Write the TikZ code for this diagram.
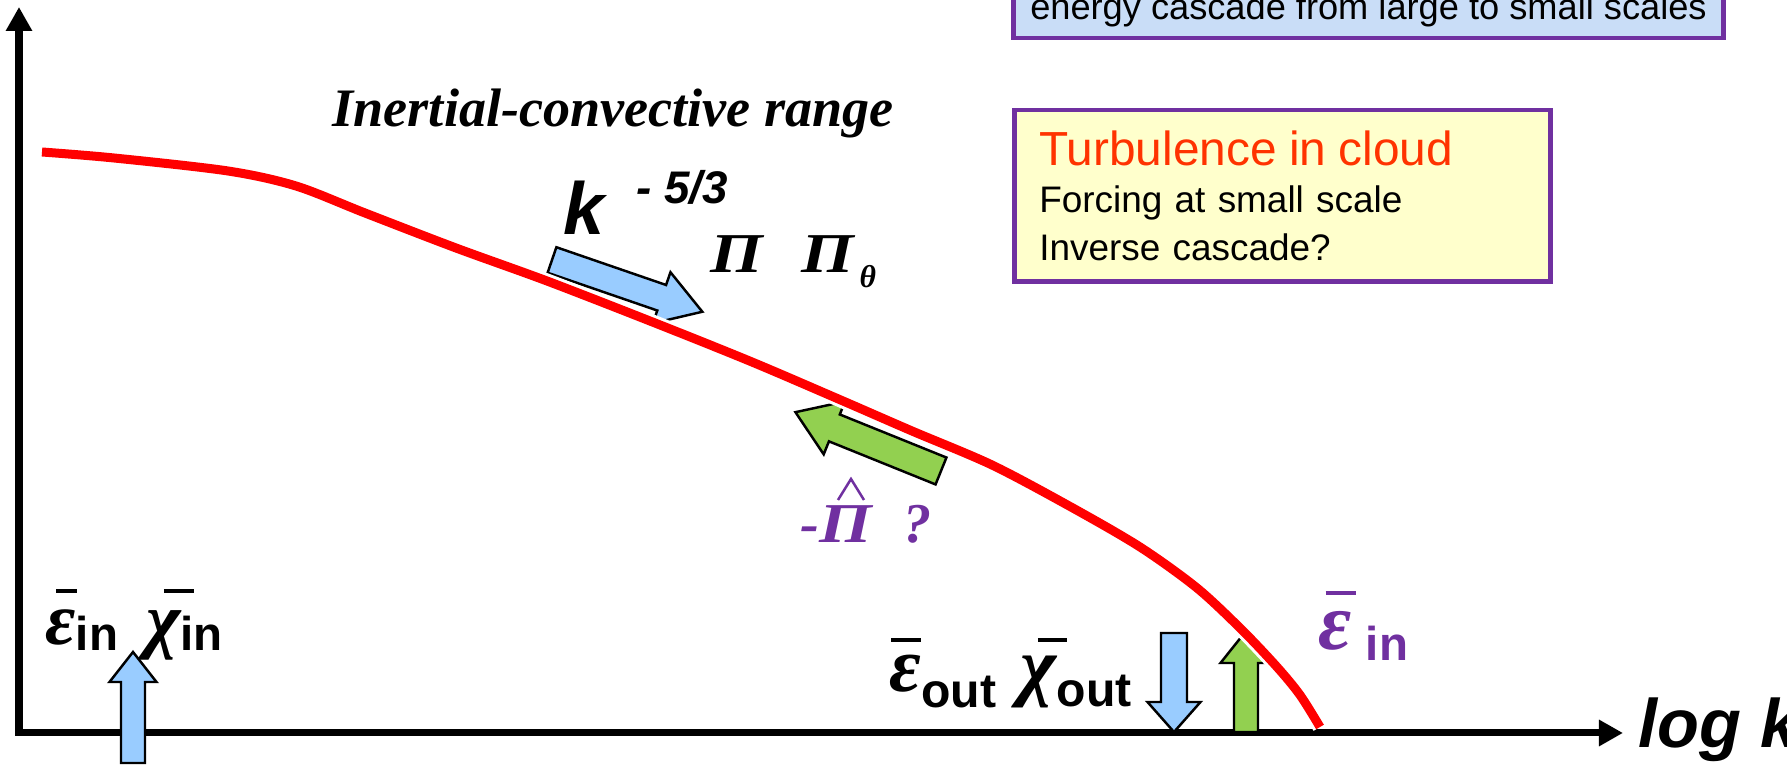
\documentclass[tikz,border=0pt]{standalone}
\usepackage{fontspec}
\setmainfont{Liberation Sans}
\newfontfamily\seriffont{Liberation Serif}
\usepackage{graphicx}
\usetikzlibrary{arrows.meta}

\definecolor{cvred}{HTML}{FF0000}
\definecolor{cvpurple}{HTML}{7030A0}
\definecolor{titlered}{HTML}{FF3300}
\definecolor{arrowblue}{HTML}{99CCFF}
\definecolor{arrowgreen}{HTML}{92D050}
\definecolor{cloudyellow}{HTML}{FFFFCC}
\definecolor{cascadeblue}{HTML}{C9DDF7}

\newcommand\serifbi{\seriffont\bfseries\itshape}
\newcommand\widepi{\scalebox{1.2}[1]{Π}}
% bar over a symbol: offset, raise, width, symbol
\newcommand\ovbar[4]{\makebox[0pt][l]{\hspace{#1}\rule[#2]{#3}{1.1pt}}#4}

\tikzset{
  pics/blockarrow/.style n args={4}{code={
    \draw[pic actions] (0,{-#2/2}) -- ({#1-#4},{-#2/2}) -- ({#1-#4},{-#3/2}) -- (#1,0)
      -- ({#1-#4},{#3/2}) -- ({#1-#4},{#2/2}) -- (0,{#2/2}) -- cycle;
  }}
}

\begin{document}
\begin{tikzpicture}[
  x=0.01cm, y=-0.01cm,
  lbl/.style={inner sep=0pt, anchor=base west},
  infobox/.style={draw=cvpurple, line width=0.045cm},
  blockstyle/.style={draw=black, line width=0.7pt, line join=miter},
  axis/.style={line width=0.07cm, line join=miter,
    {Triangle[width=0.25cm,length=0.24cm]}-{Triangle[width=0.25cm,length=0.24cm]}},
  spectrum/.style={cvred, line width=0.09cm,
    preaction={draw=white, line width=0.15cm}}
]
\useasboundingbox (0,0) rectangle (1787,765);
\fill[white] (0,0) rectangle (1787,765);

% axes
\draw[axis] (19,7) -- (19,733) -- (1623,733);
\node[lbl, font=\bfseries\itshape\fontsize{19.5pt}{22pt}\selectfont] (logk) at (1638,748) {log k};

% flux arrows
\pic[blockstyle, fill=arrowblue, rotate=-19] at (552,260) {blockarrow={159}{27}{54}{43}};
\pic[blockstyle, fill=arrowgreen, rotate=158] at (941,471) {blockarrow={157}{29}{57}{42}};
\pic[blockstyle, fill=arrowblue, rotate=90] at (133,763) {blockarrow={111}{24}{47}{30}};
\pic[blockstyle, fill=arrowblue, rotate=-90] at (1174,633) {blockarrow={99}{26}{53}{30}};
\pic[blockstyle, fill=arrowgreen, rotate=90] at (1246,732) {blockarrow={101}{24}{51}{32}};

% spectrum
\draw[spectrum] plot[smooth, tension=0.5] coordinates {
  (42,152) (114,158) (228,171) (296,186) (365,213) (456,248) (547,281)
  (655,323) (752,362) (843,401) (912,431) (992,465) (1071,507) (1140,547)
  (1197,588) (1242,630) (1277,667) (1300,695) (1320,727)};

% labels
\node[lbl, font=\serifbi\fontsize{15.4pt}{18pt}\selectfont] (range) at (332,127) {Inertial-convective range};
\node[lbl, font=\bfseries\itshape\fontsize{21pt}{24pt}\selectfont] (slope) at (563,235)
  {k\hspace{9pt}\raisebox{9pt}{\fontsize{13pt}{15pt}\selectfont - 5/3}};
\node[lbl, font=\serifbi\fontsize{16pt}{18pt}\selectfont] (flux) at (710,273)
  {\widepi\hspace{11pt}\widepi\hspace{1.5pt}\raisebox{-4pt}{\fontsize{9pt}{10pt}\selectfont θ}};
\node[lbl, text=cvpurple, font=\serifbi\fontsize{16pt}{18pt}\selectfont] (backflux) at (800,543)
  {-\widepi\hspace{9pt}?};
\draw[cvpurple, line width=0.025cm] (838,500) -- (851,479) -- (864,500);

\node[lbl] (forcing) at (45,645)
  {{\serifbi\fontsize{21pt}{24pt}\selectfont\ovbar{3pt}{14.8pt}{6pt}{ε}}%
   \raisebox{-1.5pt}{\bfseries\fontsize{13.5pt}{16pt}\selectfont in}\hspace{8pt}%
   {\serifbi\fontsize{21pt}{24pt}\selectfont\ovbar{5pt}{14.8pt}{8.5pt}{χ}}%
   \raisebox{-1.5pt}{\bfseries\fontsize{13.5pt}{16pt}\selectfont in}};
\node[lbl] (dissip) at (889,692)
  {{\serifbi\fontsize{22pt}{24pt}\selectfont\ovbar{0.5pt}{14.2pt}{8.5pt}{ε}}%
   \raisebox{-4.3pt}{\bfseries\fontsize{13.7pt}{16pt}\selectfont out}\hspace{7pt}%
   {\serifbi\fontsize{22pt}{24pt}\selectfont\ovbar{4.8pt}{14.2pt}{8.2pt}{χ}}%
   \raisebox{-4pt}{\bfseries\fontsize{13.7pt}{16pt}\selectfont out}};
\node[lbl, text=cvpurple] (cloudin) at (1318,650)
  {{\serifbi\fontsize{23pt}{26pt}\selectfont\ovbar{2pt}{15.6pt}{8.5pt}{ε}}%
   \hspace{4pt}\raisebox{-3pt}{\bfseries\fontsize{13.5pt}{16pt}\selectfont in}};

% boxes
\node[infobox, fill=cascadeblue, anchor=base west, inner xsep=0.11cm, inner ysep=0pt,
  text height=0.7cm, text depth=0.18cm, minimum width=7.1cm,
  font=\fontsize{10.3pt}{12pt}\selectfont] (cascade) at (1011,20)
  {energy cascade from large to small scales};
\node[infobox, fill=cloudyellow, anchor=north west, minimum width=5.36cm, minimum height=1.71cm,
  inner xsep=0.25cm, text width=4.86cm, align=left,
  font=\fontsize{10.5pt}{13.4pt}\selectfont] (cloud) at (1012,108)
  {{\color{titlered}\fontsize{13.6pt}{13pt}\selectfont Turbulence in cloud}\\
   Forcing at small scale\\Inverse cascade?};
\end{tikzpicture}
\end{document}
